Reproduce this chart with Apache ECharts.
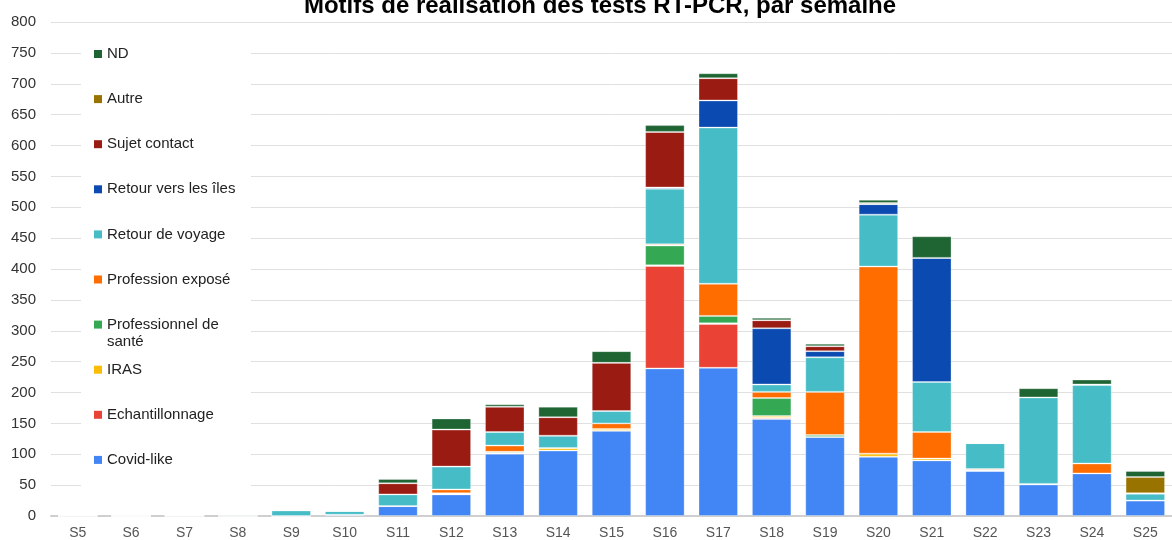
<!DOCTYPE html>
<html>
<head>
<meta charset="utf-8">
<script src="https://cdn.jsdelivr.net/npm/echarts@6/dist/echarts.min.js"></script>
<style>html,body{margin:0;padding:0;background:#fff}#c{width:1172px;height:540px}</style>
</head>
<body>
<div id="c"></div>
<script>
const categories = ['S5','S6','S7','S8','S9','S10','S11','S12','S13','S14','S15','S16','S17','S18','S19','S20','S21','S22','S23','S24','S25'];
const seriesNames = ['Covid-like','Echantillonnage','IRAS','Professionnel de santé','Profession exposé','Retour de voyage','Retour vers les îles','Sujet contact','Autre','ND'];
const covidLike       = [0,0,0,0,0,2,16,35,101,106,138,239,240,157,128,96,90,73,51,69,25];
const echantillonnage = [0,0,0,0,0,0,0,0,0,0,0,166,71,2,0,0,0,0,0,0,0];
const iras            = [0,0,0,0,0,0,0,1,1,4,3,1,1,3,0,5,3,1,0,0,0];
const profSante       = [0,0,0,0,0,0,0,1,2,0,0,32,12,29,3,0,0,0,1,0,0];
const professionExpose= [0,0,0,0,0,0,0,6,10,0,9,2,52,10,70,303,43,2,0,16,0];
const retourVoyage    = [1,0,1,2,9,6,19,37,22,20,20,90,253,12,56,84,81,42,140,127,11];
const retourIles      = [0,0,0,0,0,0,0,0,0,0,0,2,44,91,10,17,201,0,0,1,1];
const sujetContact    = [0,0,0,0,0,0,18,60,41,30,78,90,36,13,8,0,0,0,0,0,0];
const autre           = [0,0,0,0,0,0,0,0,0,0,0,0,0,0,0,2,0,0,0,0,26];
const nd              = [0,0,0,0,0,0,7,18,4,17,19,11,8,4,4,5,35,1,15,8,10];
const yTicks = {min:0, max:800, interval:50};

const seriesData = [covidLike,echantillonnage,iras,profSante,professionExpose,retourVoyage,retourIles,sujetContact,autre,nd];
const colors = ['#4285f4','#ea4335','#fbbc04','#34a853','#ff6d00','#46bdc6','#0b4bb1','#9a1b12','#997300','#1f6534'];

const legendOrder = ['ND','Autre','Sujet contact','Retour vers les îles','Retour de voyage','Profession exposé','Professionnel de santé','IRAS','Echantillonnage','Covid-like'];
const legends = legendOrder.map((name,i)=>{
  const center = 54 + i*45.1;
  const twoLine = name === 'Professionnel de santé';
  return {
    data:[name], left:94, top: twoLine ? center-25.5 : center-8.5, padding:0,
    orient:'vertical', icon:'rect', itemWidth:8, itemHeight:8,
    itemStyle:{borderWidth:0},
    formatter: twoLine ? '\nProfessionnel de\nsanté' : '{name}',
    textStyle:{fontFamily:'Liberation Sans, Arial', fontSize:15, color:'#222', lineHeight:17}
  };
});

const chart = echarts.init(document.getElementById('c'), null, {renderer:'canvas'});
chart.setOption({
  animation:false,
  color: colors,
  title:{text:'Motifs de réalisation des tests RT-PCR, par semaine', left:595, textAlign:'center', top:-11,
    textStyle:{fontFamily:'Liberation Sans, Arial', fontWeight:'bold', fontSize:24, color:'#000'}},
  graphic:[{type:'rect', z:1, shape:{x:81,y:36,width:170,height:462}, style:{fill:'#fff'}}],
  legend: legends,
  grid:{left:51, right:-7, top:22, bottom:21, containLabel:false},
  xAxis:{type:'category', data:categories,
    axisLine:{lineStyle:{color:'#cfcfcf', width:2}}, axisTick:{show:false},
    axisLabel:{fontFamily:'Liberation Sans, Arial', fontSize:14, color:'#555', margin:10}},
  yAxis:{type:'value', min:yTicks.min, max:yTicks.max, interval:yTicks.interval,
    axisLine:{show:false}, axisTick:{show:false},
    splitLine:{lineStyle:{color:'#e0e0e0', width:1}},
    axisLabel:{fontFamily:'Liberation Sans, Arial', fontSize:15, color:'#333', margin:15}},
  series: seriesNames.map((n,i)=>({
    name:n, type:'bar', stack:'total', data:seriesData[i], barCategoryGap:'26%',
    itemStyle:{borderColor:'rgba(255,255,255,0.3)', borderWidth:1},
    emphasis:{disabled:true}
  }))
});
</script>
</body>
</html>
